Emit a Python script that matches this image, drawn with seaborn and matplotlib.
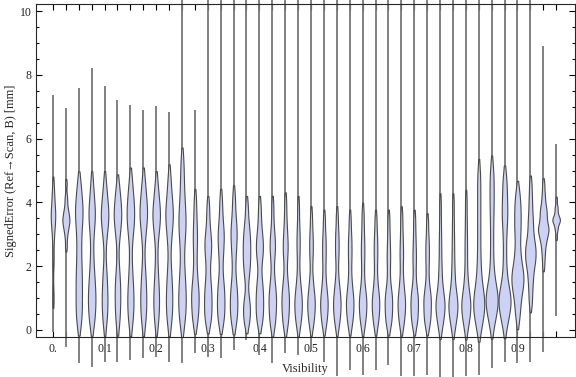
import matplotlib
matplotlib.use("Agg")
import matplotlib.pyplot as plt
import pandas as pd
import seaborn as sns
from matplotlib.ticker import MultipleLocator

# Bin centres (Visibility)
vis = [0.000, 0.025, 0.050, 0.075, 0.100, 0.125, 0.150, 0.175, 0.200, 0.225,
       0.250, 0.275, 0.300, 0.325, 0.350, 0.375, 0.400, 0.425, 0.450, 0.475,
       0.500, 0.525, 0.550, 0.575, 0.600, 0.625, 0.650, 0.675, 0.700, 0.725,
       0.750, 0.775, 0.800, 0.825, 0.850, 0.875, 0.900, 0.925, 0.950, 0.975]

# Extent of each distribution (thin tails of the violins)
err_min = [-0.05, -0.52, -1.04, -1.15, -0.99, -0.99, -0.94, -0.88, -0.84, -0.99,
           -1.04, -0.73, -0.84, -0.88, -0.63, -0.31, -0.78, -1.04, -0.73, -0.78,
           -0.65, -1.00, -1.45, -1.25, -1.40, -1.25, -1.10, -1.45, -1.45, -1.40,
           -1.47, -1.47, -1.45, -1.40, -1.20, -1.00, -1.05, -1.00, -0.70, 0.45]
err_max = [7.37, 6.95, 7.60, 8.20, 7.65, 7.20, 7.05, 6.90, 7.02, 6.85,
           11.0, 6.90, 11.0, 11.0, 11.0, 11.0, 11.0, 11.0, 11.0, 11.0,
           11.0, 11.0, 11.0, 11.0, 11.0, 11.0, 11.0, 11.0, 11.0, 11.0,
           11.0, 11.0, 11.0, 11.0, 11.0, 11.0, 11.0, 11.0, 8.90, 5.83]

# Bulk of the signed errors in each bin [mm]
error_samples = [
    [1.0, 2.2, 2.9, 3.3, 3.5, 3.6, 3.8, 4.1, 4.5],
    [2.6, 2.9, 3.1, 3.2, 3.3, 3.4, 3.45, 3.5, 3.6, 3.7, 3.8, 4.0, 4.2, 4.6],
    [0.2, 0.5, 0.8, 1.1, 1.4, 1.7, 2.0, 2.4, 2.8, 3.2, 3.5, 3.7, 3.9, 4.2, 4.6],
    [0.2, 0.4, 0.7, 0.9, 1.1, 1.3, 1.6, 1.9, 2.4, 3.0, 3.4, 3.6, 3.8, 4.1, 4.6],
    [0.2, 0.5, 0.8, 1.0, 1.3, 1.6, 2.0, 2.8, 3.2, 3.4, 3.6, 3.7, 3.9, 4.2, 4.6],
    [0.2, 0.5, 0.8, 1.1, 1.3, 1.6, 2.0, 2.8, 3.2, 3.4, 3.6, 3.7, 3.9, 4.2, 4.5],
    [0.2, 0.5, 0.8, 1.0, 1.3, 1.6, 2.1, 2.8, 3.2, 3.4, 3.6, 3.8, 4.0, 4.3, 4.7],
    [0.2, 0.5, 0.8, 1.0, 1.3, 1.6, 2.0, 2.8, 3.2, 3.5, 3.6, 3.8, 4.0, 4.3, 4.7],
    [0.2, 0.5, 0.8, 1.0, 1.3, 1.6, 2.1, 2.8, 3.2, 3.4, 3.6, 3.7, 3.9, 4.2, 4.6],
    [0.2, 0.5, 0.8, 1.0, 1.3, 1.6, 2.0, 2.7, 3.1, 3.4, 3.6, 3.7, 4.0, 4.3, 4.8],
    [0.2, 0.5, 0.8, 1.0, 1.3, 1.6, 2.0, 2.6, 3.0, 3.3, 3.5, 3.8, 4.2, 4.7, 5.3],
    [0.2, 0.4, 0.6, 0.8, 1.0, 1.1, 1.3, 1.5, 1.8, 2.2, 2.6, 2.9, 3.2, 3.6, 4.1],
    [0.2, 0.4, 0.6, 0.8, 1.0, 1.2, 1.4, 1.7, 2.1, 2.4, 2.6, 2.8, 3.0, 3.4, 3.9],
    [0.2, 0.4, 0.6, 0.8, 1.0, 1.2, 1.4, 1.7, 2.2, 2.5, 2.8, 3.0, 3.2, 3.6, 4.1],
    [0.2, 0.4, 0.6, 0.8, 1.0, 1.2, 1.4, 1.8, 2.3, 2.6, 2.9, 3.1, 3.3, 3.7, 4.2],
    [0.2, 0.4, 0.6, 0.8, 1.0, 1.6, 1.9, 2.1, 2.3, 2.5, 2.7, 2.9, 3.1, 3.4, 3.9],
    [0.2, 0.4, 0.6, 0.8, 1.0, 1.2, 1.4, 1.7, 2.2, 2.4, 2.6, 2.8, 3.0, 3.4, 3.9],
    [0.1, 0.3, 0.5, 0.7, 0.9, 1.0, 1.2, 1.4, 1.7, 2.2, 2.5, 2.7, 2.9, 3.3, 3.9],
    [0.1, 0.3, 0.5, 0.7, 0.9, 1.0, 1.2, 1.4, 1.7, 2.2, 2.5, 2.7, 3.0, 3.4, 4.0],
    [0.1, 0.3, 0.5, 0.6, 0.8, 0.9, 1.0, 1.2, 1.4, 1.7, 2.2, 2.6, 2.9, 3.3, 3.9],
    [0.1, 0.3, 0.5, 0.6, 0.8, 0.9, 1.0, 1.2, 1.4, 1.7, 2.2, 2.5, 2.8, 3.1, 3.6],
    [0.1, 0.3, 0.5, 0.6, 0.8, 0.9, 1.0, 1.2, 1.4, 1.7, 2.1, 2.4, 2.7, 3.0, 3.5],
    [0.1, 0.3, 0.5, 0.6, 0.8, 0.9, 1.0, 1.2, 1.4, 1.7, 2.2, 2.5, 2.8, 3.1, 3.6],
    [0.1, 0.3, 0.5, 0.6, 0.8, 0.9, 1.0, 1.2, 1.4, 1.7, 2.1, 2.4, 2.7, 3.0, 3.5],
    [0.1, 0.3, 0.5, 0.6, 0.8, 0.9, 1.0, 1.2, 1.4, 1.8, 2.2, 2.5, 2.8, 3.2, 3.7],
    [0.1, 0.3, 0.5, 0.6, 0.8, 0.9, 1.0, 1.2, 1.4, 1.7, 2.1, 2.4, 2.7, 3.0, 3.5],
    [0.1, 0.3, 0.4, 0.6, 0.7, 0.9, 1.0, 1.1, 1.3, 1.6, 2.0, 2.3, 2.6, 3.0, 3.5],
    [0.1, 0.3, 0.5, 0.6, 0.8, 0.9, 1.0, 1.2, 1.4, 1.7, 2.1, 2.4, 2.7, 3.1, 3.6],
    [0.1, 0.3, 0.4, 0.6, 0.7, 0.9, 1.0, 1.1, 1.3, 1.6, 2.0, 2.3, 2.6, 3.0, 3.5],
    [0.1, 0.3, 0.4, 0.6, 0.7, 0.9, 1.0, 1.1, 1.3, 1.6, 2.0, 2.3, 2.6, 2.9, 3.4],
    [0.0, 0.2, 0.4, 0.5, 0.6, 0.7, 0.8, 0.9, 1.0, 1.1, 1.3, 1.5, 1.8, 2.1, 2.5,
     2.9, 3.4, 4.0],
    [0.0, 0.2, 0.4, 0.5, 0.6, 0.7, 0.8, 0.9, 1.0, 1.1, 1.3, 1.5, 1.8, 2.1, 2.5,
     2.9, 3.4, 4.0],
    [0.0, 0.2, 0.4, 0.5, 0.6, 0.7, 0.8, 0.9, 1.0, 1.1, 1.3, 1.5, 1.8, 2.2, 2.6,
     3.0, 3.5, 4.1],
    [0.0, 0.2, 0.4, 0.5, 0.6, 0.7, 0.8, 0.9, 1.0, 1.1, 1.2, 1.4, 1.6, 1.9, 2.2,
     2.6, 3.0, 3.4, 3.8, 4.2, 4.6, 5.0],
    [0.1, 0.3, 0.5, 0.6, 0.7, 0.8, 0.9, 1.0, 1.0, 1.1, 1.2, 1.3, 1.5, 1.7, 2.0,
     2.4, 2.8, 3.2, 3.6, 3.9, 4.2, 4.5, 4.8, 5.1],
    [0.1, 0.3, 0.5, 0.6, 0.7, 0.8, 0.9, 1.0, 1.0, 1.1, 1.2, 1.4, 1.6, 1.9, 2.3,
     2.7, 3.1, 3.4, 3.6, 3.8, 4.0, 4.3, 4.6, 4.8],
    [0.3, 0.6, 0.8, 1.0, 1.2, 1.3, 1.4, 1.5, 1.6, 1.7, 1.8, 1.9, 2.0, 2.2, 2.4,
     2.6, 2.9, 3.1, 3.3, 3.5, 3.7, 3.9, 4.1, 4.4],
    [0.8, 1.1, 1.4, 1.6, 1.8, 2.0, 2.1, 2.2, 2.3, 2.4, 2.5, 2.6, 2.7, 2.8, 3.0,
     3.2, 3.4, 3.6, 3.9, 4.2, 4.6],
    [2.0, 2.3, 2.5, 2.7, 2.8, 2.9, 3.0, 3.1, 3.1, 3.2, 3.2, 3.3, 3.4, 3.5, 3.6,
     3.7, 3.8, 3.9, 4.1, 4.3, 4.6],
    [2.9, 3.1, 3.2, 3.3, 3.35, 3.4, 3.45, 3.45, 3.5, 3.55, 3.6, 3.7, 3.8, 3.9, 4.1],
]

x_tick_pos = [0.0, 0.1, 0.2, 0.3, 0.4, 0.5, 0.6, 0.7, 0.8, 0.9]
x_tick_labels = ["0.", "0.1", "0.2", "0.3", "0.4", "0.5", "0.6", "0.7", "0.8", "0.9"]
y_tick_pos = [0, 2, 4, 6, 8, 10]

rows = [(v, e) for v, vals in zip(vis, error_samples) for e in vals]
df = pd.DataFrame(rows, columns=["Visibility", "SignedError"])

sns.set_style("ticks")
plt.rcParams["font.family"] = ["Liberation Serif", "DejaVu Serif"]
plt.rcParams["text.color"] = "#222222"

fig = plt.figure(figsize=(5.76, 3.77), dpi=100)
ax = fig.add_axes([0.0625, 0.1053, 0.9358, 0.884])

# tails first, bodies on top
ax.vlines(vis, err_min, err_max, color="#777777", linewidth=1.3, zorder=1, clip_on=False)
sns.violinplot(data=df, x="Visibility", y="SignedError", native_scale=True,
               density_norm="count", width=0.93, cut=1, bw_adjust=0.45,
               inner=None, color="#ccd2f5", saturation=1, linecolor="#4a4a4a",
               linewidth=0.8, ax=ax, zorder=2)
for c in ax.collections:
    c.set_clip_on(False)

ax.set_xlim(-0.0329, 1.0116)
ax.set_ylim(-0.229, 10.22)

ax.set_xticks(x_tick_pos)
ax.set_xticklabels(x_tick_labels)
ax.set_xticks(vis, minor=True)
ax.set_yticks(y_tick_pos)
ax.set_yticklabels([str(t) for t in y_tick_pos])
ax.yaxis.set_minor_locator(MultipleLocator(0.5))

ax.tick_params(which="both", direction="in", top=True, right=True,
               labelsize=8.5, labelcolor="#222222", color="black", width=0.8)
ax.tick_params(axis="x", which="both", length=4, pad=4)
ax.tick_params(axis="y", which="major", length=4, pad=3)
ax.tick_params(axis="y", which="minor", length=2.2)
for s in ax.spines.values():
    s.set_linewidth(0.8)

ax.set_xlabel("Visibility", fontsize=9, labelpad=6)
ax.set_ylabel("SignedError (Ref\u2192Scan, B) [mm]", fontsize=9, labelpad=2)

fig.savefig("out.png", dpi=100)
